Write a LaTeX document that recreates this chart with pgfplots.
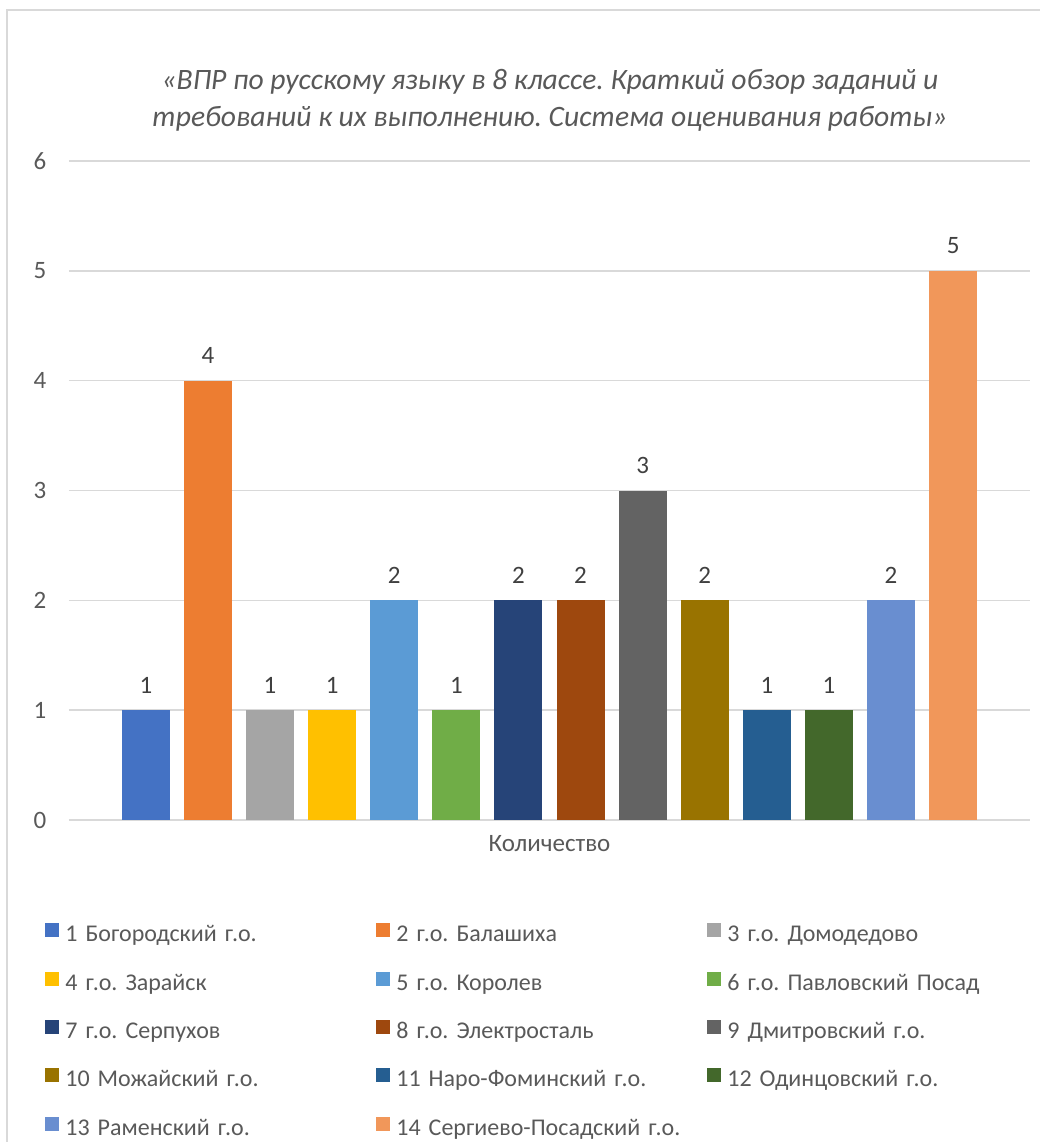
\documentclass[border=0pt]{standalone}
\usepackage{fontspec}
\setmainfont{Carlito}
\usepackage{pgfplots}
\pgfplotsset{compat=1.18}
\frenchspacing

\definecolor{c1}{HTML}{4472C4}
\definecolor{c2}{HTML}{ED7D31}
\definecolor{c3}{HTML}{A5A5A5}
\definecolor{c4}{HTML}{FFC000}
\definecolor{c5}{HTML}{5B9BD5}
\definecolor{c6}{HTML}{70AD47}
\definecolor{c7}{HTML}{264478}
\definecolor{c8}{HTML}{9E480E}
\definecolor{c9}{HTML}{636363}
\definecolor{c10}{HTML}{997300}
\definecolor{c11}{HTML}{255E91}
\definecolor{c12}{HTML}{43682B}
\definecolor{c13}{HTML}{698ED0}
\definecolor{c14}{HTML}{F1975A}
\definecolor{gridgray}{HTML}{D9D9D9}
\definecolor{labelgray}{HTML}{595959}
\definecolor{valgray}{HTML}{404040}

\begin{document}
\begin{tikzpicture}
\useasboundingbox (0pt,0pt) rectangle (520pt,571pt);
% chart frame
\draw[line width=1pt, gridgray] (3.5pt,-5pt) -- (3.5pt,566pt) -- (525pt,566pt);
% title
\node[text=labelgray, font=\itshape\fontsize{14.8}{18.5}\selectfont, align=center]
  at (275pt,520.75pt) {«ВПР по русскому языку в 8 классе. Краткий обзор заданий и\\
  требований к их выполнению. Система оценивания работы»};

\begin{axis}[
    at={(34.5pt,161pt)}, anchor=south west,
    width=480.5pt, height=329.5pt, scale only axis,
    ymin=0, ymax=6, ytick={0,1,...,6},
    xmin=-1, xmax=1, xtick={0}, xticklabels={Количество},
    ybar=7.05pt, bar width=24pt,
    ymajorgrids, grid style={gridgray, line width=0.75pt},
    axis line style={draw=none}, major tick length=0pt,
    /pgf/number format/assume math mode=true,
    tick label style={text=labelgray, font=\fontsize{12.5}{14}\selectfont},
    yticklabel style={anchor=center, xshift=-14.5pt},
    xticklabel style={yshift=-4pt},
    nodes near coords,
    nodes near coords style={text=valgray, font=\fontsize{12.5}{14}\selectfont, yshift=5pt},
    every axis plot/.append style={draw=none},
    legend image code/.code={\fill[#1,draw=none] (0pt,-0.5pt) rectangle (7pt,6.5pt);},
    legend columns=3,
    legend cell align=left,
    legend style={
        at={(axis description cs:0,0)}, anchor=north west,
        xshift=-12pt, yshift=-51.5pt,
        draw=none, fill=none, inner sep=0pt,
        row sep=12.4pt,
        font=\fontsize{12}{14}\selectfont, text=labelgray,
        nodes={inner sep=0pt, text width=150pt, align=left, text height=8pt, text depth=2.5pt},
        /tikz/every odd column/.append style={column sep=3pt},
        /tikz/every even column/.append style={column sep=5.5pt},
    },
]
\addplot[fill=c1]  coordinates {(0,1)};
\addlegendentry{1 Богородский г.о.}
\addplot[fill=c2]  coordinates {(0,4)};
\addlegendentry{2 г.о. Балашиха}
\addplot[fill=c3]  coordinates {(0,1)};
\addlegendentry{3 г.о. Домодедово}
\addplot[fill=c4]  coordinates {(0,1)};
\addlegendentry{4 г.о. Зарайск}
\addplot[fill=c5]  coordinates {(0,2)};
\addlegendentry{5 г.о. Королев}
\addplot[fill=c6]  coordinates {(0,1)};
\addlegendentry{6 г.о. Павловский Посад}
\addplot[fill=c7]  coordinates {(0,2)};
\addlegendentry{7 г.о. Серпухов}
\addplot[fill=c8]  coordinates {(0,2)};
\addlegendentry{8 г.о. Электросталь}
\addplot[fill=c9]  coordinates {(0,3)};
\addlegendentry{9 Дмитровский г.о.}
\addplot[fill=c10] coordinates {(0,2)};
\addlegendentry{10 Можайский г.о.}
\addplot[fill=c11] coordinates {(0,1)};
\addlegendentry{11 Наро-Фоминский г.о.}
\addplot[fill=c12] coordinates {(0,1)};
\addlegendentry{12 Одинцовский г.о.}
\addplot[fill=c13] coordinates {(0,2)};
\addlegendentry{13 Раменский г.о.}
\addplot[fill=c14] coordinates {(0,5)};
\addlegendentry{14 Сергиево-Посадский г.о.}
\end{axis}
\end{tikzpicture}
\end{document}
